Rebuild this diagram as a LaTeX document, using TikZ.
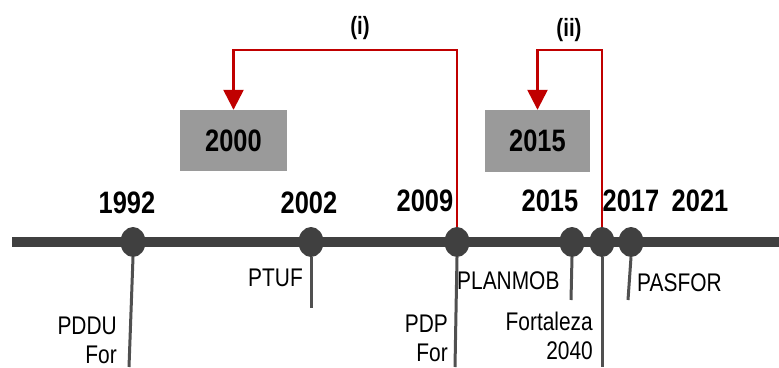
\documentclass[tikz,border=0pt]{standalone}
\usepackage{fontspec}
\setmainfont{Liberation Sans}[FakeStretch=0.82]
\usetikzlibrary{shapes.geometric,arrows.meta}

\definecolor{axisgray}{HTML}{404040}
\definecolor{dropgray}{HTML}{505050}
\definecolor{boxgray}{HTML}{9A9A9A}
\definecolor{linkred}{HTML}{C00000}

\tikzset{
  event/.style={ellipse, fill=axisgray, draw=none, minimum width=25pt, minimum height=30pt, inner sep=0pt},
  drop/.style={draw=dropgray, line width=3pt},
  year/.style={inner sep=0pt, font=\fontsize{31}{36}\selectfont\bfseries},
  plan/.style={inner sep=0pt, font=\fontsize{25.5}{29}\selectfont},
  twoline/.style={plan, align=right, anchor=north east},
  refbox/.style={fill=boxgray, draw=none, inner sep=0pt, font=\fontsize{31}{36}\selectfont\bfseries},
  link/.style={draw=linkred, line width=2.5pt, -{Triangle[width=20pt,length=20pt]}},
  tag/.style={inner sep=0pt, font=\fontsize{25}{30}\selectfont\bfseries}
}

\begin{document}
\begin{tikzpicture}[x=1pt, y=-1pt]
\useasboundingbox (0,0) rectangle (779,367);

% main axis
\coordinate (axisL) at (12,242);
\coordinate (axisR) at (779,242);
\draw[axisgray, line width=9.5pt] (axisL) -- (axisR);

% events on the axis
\node[event] (d1992) at (133,242) {};
\node[event] (d2002) at (311,242) {};
\node[event] (d2009) at (457,242) {};
\node[event] (d2015) at (572,242) {};
\node[event] (dfor)  at (602,242) {};
\node[event] (d2017) at (631,242) {};

% year labels
\node[year] (y1992) at (127,203) {1992};
\node[year] (y2002) at (309,203) {2002};
\node[year] (y2009) at (425,201) {2009};
\node[year] (y2015) at (550,201) {2015};
\node[year] (y2017) at (631,201) {2017};
\node[year] (y2021) at (700,201) {2021};

% drop lines ends
\coordinate (e1992) at (129,367);
\coordinate (e2002) at (311,308);
\coordinate (e2009) at (455,367);
\coordinate (e2015) at (571,300);
\coordinate (efor)  at (602,367);
\coordinate (e2017) at (628,300);

\draw[drop] (d1992.south) -- (e1992);
\draw[drop] (d2002.south) -- (e2002);
\draw[drop] (d2009.south) -- (e2009);
\draw[drop] (d2015.south) -- (e2015);
\draw[drop] (dfor.south)  -- (efor);
\draw[drop] (d2017.south) -- (e2017);

% plan labels
\node[twoline] (pddu) at (117,317) {PDDU\\For};
\node[plan, anchor=east] (ptuf) at (303,278) {PTUF};
\node[twoline] (pdp) at (448,315) {PDP\\For};
\node[plan, anchor=west] (planmob) at (457,281) {PLANMOB};
\node[twoline] (fort) at (593,312) {Fortaleza\\2040};
\node[plan, anchor=west] (pasfor) at (637,283) {PASFOR};

% reference boxes
\node[refbox, minimum width=107pt, minimum height=61pt] (b2000) at (233.5,140.5) {2000};
\node[refbox, minimum width=105pt, minimum height=62pt] (b2015) at (537.5,141) {2015};

% links back to the reference years
\coordinate (top1) at (0,50);
\coordinate (top2) at (0,50);
\draw[link] (d2009.north) -- (d2009.north |- top1) -| (b2000.north);
\draw[link] (dfor.north) -- (dfor.north |- top2) -| (b2015.north);

\node[tag] (ti)  at (360,28) {(i)};
\node[tag] (tii) at (569,30) {(ii)};
\end{tikzpicture}
\end{document}
